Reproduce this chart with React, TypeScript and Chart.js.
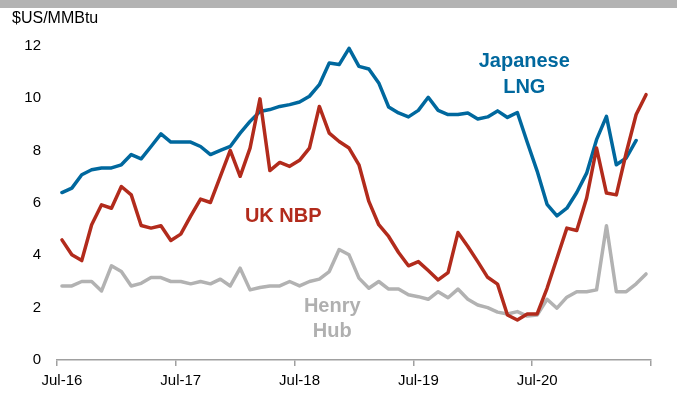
import React, { useEffect, useRef } from "react";
import { Chart, registerables } from "chart.js";

Chart.register(...registerables);

const categories = [
  "Jul-16", "Aug-16", "Sep-16", "Oct-16", "Nov-16", "Dec-16",
  "Jan-17", "Feb-17", "Mar-17", "Apr-17", "May-17", "Jun-17",
  "Jul-17", "Aug-17", "Sep-17", "Oct-17", "Nov-17", "Dec-17",
  "Jan-18", "Feb-18", "Mar-18", "Apr-18", "May-18", "Jun-18",
  "Jul-18", "Aug-18", "Sep-18", "Oct-18", "Nov-18", "Dec-18",
  "Jan-19", "Feb-19", "Mar-19", "Apr-19", "May-19", "Jun-19",
  "Jul-19", "Aug-19", "Sep-19", "Oct-19", "Nov-19", "Dec-19",
  "Jan-20", "Feb-20", "Mar-20", "Apr-20", "May-20", "Jun-20",
  "Jul-20", "Aug-20", "Sep-20", "Oct-20", "Nov-20", "Dec-20",
  "Jan-21", "Feb-21", "Mar-21", "Apr-21", "May-21", "Jun-21",
];

const ukNbp = [
  4.59, 4.02, 3.8, 5.17, 5.93, 5.8, 6.63, 6.31, 5.14, 5.04, 5.13, 4.57,
  4.81, 5.5, 6.15, 6.02, 7.02, 8.01, 7.02, 8.1, 9.98, 7.24, 7.55, 7.4,
  7.63, 8.1, 9.69, 8.67, 8.35, 8.1, 7.46, 6.06, 5.17, 4.72, 4.11, 3.6,
  3.76, 3.42, 3.06, 3.34, 4.87, 4.34, 3.76, 3.16, 2.9, 1.72, 1.53, 1.76,
  1.76, 2.74, 3.89, 5.04, 4.95, 6.19, 8.1, 6.38, 6.31, 7.92, 9.38, 10.14,
];

const japaneseLng = [
  6.4, 6.57, 7.08, 7.27, 7.34, 7.34, 7.46, 7.85, 7.69, 8.16, 8.64, 8.33,
  8.33, 8.33, 8.16, 7.85, 8.01, 8.16, 8.67, 9.12, 9.5, 9.57, 9.69, 9.76,
  9.86, 10.08, 10.52, 11.35, 11.29, 11.91, 11.22, 11.12, 10.59, 9.67, 9.44, 9.29,
  9.54, 10.04, 9.54, 9.38, 9.38, 9.44, 9.21, 9.29, 9.52, 9.27, 9.46, 8.32,
  7.22, 5.95, 5.51, 5.8, 6.4, 7.14, 8.42, 9.31, 7.46, 7.72, 8.39, null,
];

const henryHub = [
  2.83, 2.83, 3.0, 3.0, 2.64, 3.6, 3.38, 2.83, 2.93, 3.15, 3.15, 3.0,
  3.0, 2.91, 3.0, 2.91, 3.09, 2.83, 3.51, 2.68, 2.77, 2.83, 2.83, 3.0,
  2.83, 3.0, 3.09, 3.38, 4.22, 4.02, 3.13, 2.74, 3.0, 2.71, 2.71, 2.49,
  2.42, 2.32, 2.61, 2.38, 2.71, 2.32, 2.1, 2.0, 1.83, 1.76, 1.85, 1.68,
  1.72, 2.32, 1.98, 2.4, 2.61, 2.61, 2.68, 5.13, 2.61, 2.61, 2.91, 3.29,
];

const yTicks = [0, 2, 4, 6, 8, 10, 12];
const xTickLabels = ["Jul-16", "Jul-17", "Jul-18", "Jul-19", "Jul-20"];

const BLUE = "#00689e";
const RED = "#b22b1c";
const GRAY = "#b2b2b2";
const AXIS = "#a0a0a0";
const FONT = '"Liberation Sans", Arial, sans-serif';

const seriesLabels = [
  { text: "Japanese", x: 46.7, y: 11.42, color: BLUE },
  { text: "LNG", x: 46.7, y: 10.4, color: BLUE },
  { text: "UK NBP", x: 22.35, y: 5.48, color: RED },
  { text: "Henry", x: 27.3, y: 2.04, color: "#b0b0b0" },
  { text: "Hub", x: 27.3, y: 1.08, color: "#b0b0b0" },
];

const decorPlugin = {
  id: "decor",
  beforeDraw(chart: any) {
    const { ctx, width } = chart;
    ctx.save();
    ctx.fillStyle = "#ffffff";
    ctx.fillRect(0, 0, width, chart.height);
    ctx.fillStyle = "#b3b3b3";
    ctx.fillRect(0, 0, width, 8);
    ctx.fillStyle = "#000000";
    ctx.font = `16px ${FONT}`;
    ctx.textAlign = "left";
    ctx.textBaseline = "middle";
    ctx.fillText("$US/MMBtu", 12, 19);
    ctx.restore();
  },
  afterDatasetsDraw(chart: any) {
    const { ctx, scales } = chart;
    ctx.save();
    ctx.font = `bold 20px ${FONT}`;
    ctx.textAlign = "center";
    ctx.textBaseline = "middle";
    for (const l of seriesLabels) {
      ctx.fillStyle = l.color;
      ctx.fillText(l.text, scales.x.getPixelForValue(l.x), scales.y.getPixelForValue(l.y));
    }
    ctx.restore();
  },
};

export default function App() {
  const ref = useRef<HTMLCanvasElement | null>(null);

  useEffect(() => {
    document.body.style.margin = "0";
    if (!ref.current) return;
    const common = {
      borderWidth: 3.5,
      pointRadius: 0,
      pointHoverRadius: 0,
      tension: 0,
      fill: false,
      borderJoinStyle: "round" as const,
      borderCapStyle: "round" as const,
      spanGaps: false,
    };
    const chart = new Chart(ref.current, {
      type: "line",
      data: {
        labels: categories,
        datasets: [
          { label: "UK NBP", data: ukNbp, borderColor: RED, ...common },
          { label: "Japanese LNG", data: japaneseLng, borderColor: BLUE, ...common },
          { label: "Henry Hub", data: henryHub, borderColor: GRAY, ...common },
        ],
      },
      options: {
        animation: false,
        responsive: true,
        maintainAspectRatio: false,
        layout: { padding: { top: 46, right: 26, bottom: 0, left: 0 } },
        plugins: { legend: { display: false }, tooltip: { enabled: false }, title: { display: false } },
        scales: {
          x: {
            type: "category",
            offset: true,
            afterFit: (s: any) => {
              s.height = 43;
            },
            grid: {
              offset: true,
              drawOnChartArea: false,
              drawTicks: true,
              tickLength: 6,
              lineWidth: 1.5,
              color: (ctx: any) => {
                if (ctx.index === undefined) return AXIS;
                const lab = categories[ctx.index];
                return lab && lab.startsWith("Jul") ? AXIS : "rgba(0,0,0,0)";
              },
            },
            border: { display: true, color: AXIS, width: 1.5 },
            ticks: {
              autoSkip: false,
              maxRotation: 0,
              minRotation: 0,
              padding: 6,
              color: "#000000",
              font: { family: FONT, size: 15 },
              callback: (_v: any, i: number) =>
                xTickLabels.includes(categories[i]) ? categories[i] : "",
            },
          },
          y: {
            type: "linear",
            min: yTicks[0],
            max: yTicks[yTicks.length - 1],
            afterFit: (s: any) => {
              s.width = 57;
            },
            afterBuildTicks: (s: any) => {
              s.ticks = yTicks.map((v) => ({ value: v }));
            },
            grid: { display: false, drawTicks: false },
            border: { display: false },
            ticks: {
              padding: 16,
              color: "#000000",
              font: { family: FONT, size: 15 },
            },
          },
        },
      },
      plugins: [decorPlugin],
    });
    return () => chart.destroy();
  }, []);

  return (
    <div style={{ width: 677, height: 403, position: "relative" }}>
      <canvas ref={ref} />
    </div>
  );
}
